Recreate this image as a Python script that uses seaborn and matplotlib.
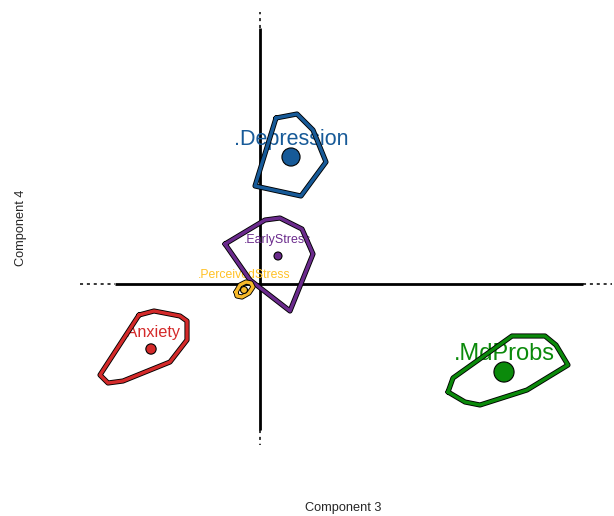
import matplotlib
matplotlib.use("Agg")
import matplotlib.pyplot as plt
import matplotlib.patheffects as pe
import numpy as np
import pandas as pd
import seaborn as sns

# Group centroids on components 3 and 4
groups = [".Depression", ".EarlyStress", ".PerceivedStress", ".Anxiety", ".MdProbs"]
comp3 = [0.31, 0.18, -0.16, -1.09, 2.44]
comp4 = [1.27, 0.28, -0.06, -0.65, -0.88]
point_size = [170, 33, 25, 55, 210]
label_size = [15.5, 8.9, 8.8, 11.7, 17.0]
colors = ["#175a98", "#6a2a8c", "#f7b92a", "#d42a2a", "#0b8a0b"]
text_colors = ["#175a98", "#6a2a8c", "#ffc125", "#d42a2a", "#0b8a0b"]

# Convex hull vertices of the item scores in each group
hull_depression = [(0.16, 1.66), (0.37, 1.70), (0.53, 1.54), (0.66, 1.22), (0.41, 0.88), (-0.05, 0.98)]
hull_earlystress = [(-0.35, 0.40), (0.05, 0.64), (0.20, 0.66), (0.42, 0.55), (0.53, 0.30), (0.30, -0.27), (-0.10, 0.04)]
hull_perceived = [(-0.24, -0.08), (-0.20, -0.01), (-0.14, 0.02), (-0.09, 0.01), (-0.07, -0.03),
                  (-0.11, -0.09), (-0.18, -0.13), (-0.23, -0.12)]
hull_anxiety = [(-1.21, -0.31), (-1.06, -0.27), (-0.80, -0.32), (-0.73, -0.37), (-0.73, -0.56),
                (-0.90, -0.78), (-1.37, -0.97), (-1.52, -0.99), (-1.60, -0.91)]
hull_mdprobs = [(1.88, -1.08), (1.93, -0.94), (2.52, -0.52), (2.85, -0.52), (2.96, -0.61),
                (3.08, -0.81), (2.67, -1.06), (2.20, -1.21), (2.05, -1.18)]
hulls = [hull_depression, hull_earlystress, hull_perceived, hull_anxiety, hull_mdprobs]

df = pd.DataFrame({"group": groups, "comp3": comp3, "comp4": comp4, "size": point_size})

sns.set_style("white")
plt.rcParams["font.family"] = ["Liberation Sans", "DejaVu Sans"]

fig = plt.figure(figsize=(6.14, 5.16), dpi=100)
ax = fig.add_axes([72 / 614, 60 / 516, 542 / 614, 456 / 516])
ax.set_xlim(-1.88, 3.54)
ax.set_ylim(-1.72, 2.84)

# Reference axes through the origin: solid core, dotted tails
ax.plot([-1.45, 3.23], [0, 0], color="black", lw=2.0, zorder=1, solid_capstyle="butt")
ax.plot([0, 0], [-1.46, 2.56], color="black", lw=2.0, zorder=1, solid_capstyle="butt")
dot = dict(color="black", lw=1.1, ls=(0, (2, 2.5)), zorder=1)
ax.plot([-1.80, -1.45], [0, 0], **dot)
ax.plot([3.23, 3.52], [0, 0], **dot)
ax.plot([0, 0], [2.56, 2.72], **dot)
ax.plot([0, 0], [-1.46, -1.61], **dot)

# Group labels above the centroids
for g, x, y, fs, tc in zip(groups, comp3, comp4, label_size, text_colors):
    ax.text(x, y + 0.125, g, color=tc, fontsize=fs, ha="center", va="baseline", zorder=2)

# Hull outlines with a dark rim
for hull, c in zip(hulls, colors):
    pts = np.array(hull + [hull[0]])
    ax.plot(pts[:, 0], pts[:, 1], color=c, lw=2.4, zorder=3, solid_joinstyle="round",
            path_effects=[pe.Stroke(linewidth=3.7, foreground="black", joinstyle="round"),
                          pe.Normal()])

sns.scatterplot(data=df, x="comp3", y="comp4", hue="group", palette=colors,
                size="size", sizes=(25, 210), size_norm=(25, 210),
                edgecolor="black", linewidth=0.8, legend=False, ax=ax, zorder=4)

ax.set_xticks([])
ax.set_yticks([])
sns.despine(ax=ax, left=True, bottom=True)
ax.set_xlabel("Component 3", fontsize=9.2, va="center")
ax.set_ylabel("Component 4", fontsize=9.2, va="center")
ax.xaxis.set_label_coords(0.5, -0.114)
ax.yaxis.set_label_coords(-0.094, 0.5)

fig.savefig("out.png", dpi=100)
